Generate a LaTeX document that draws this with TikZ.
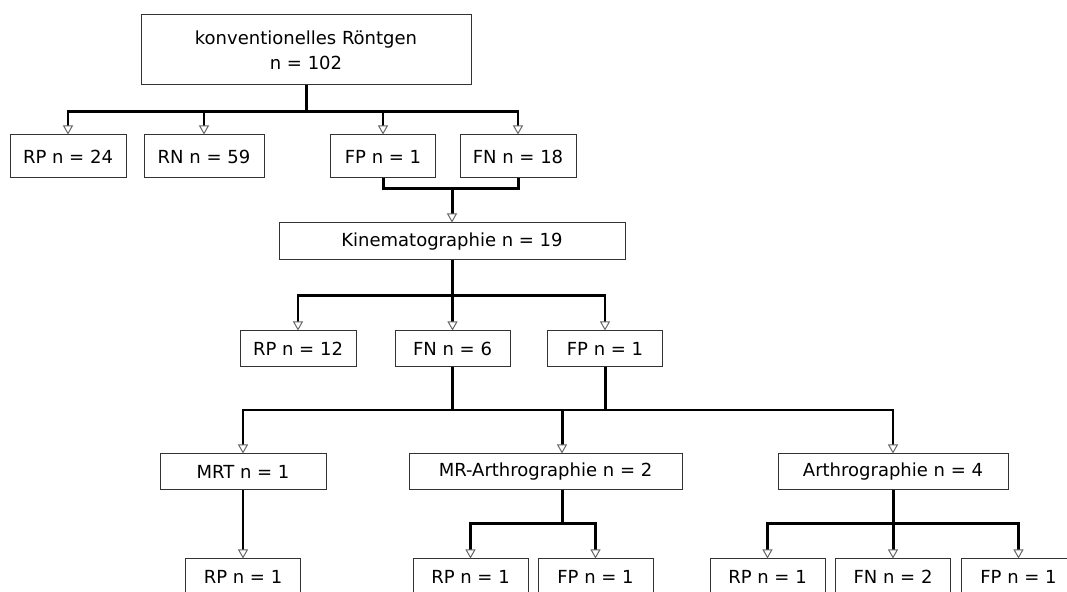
\documentclass[tikz,border=0pt]{standalone}
\usepackage{fontspec}
\setmainfont{DejaVu Sans}
\usetikzlibrary{
    positioning,                      % relative Lage der Knoten
    arrows.meta,                      % Pfeilspitzen (Triangle)
    calc                              % Koordinatenrechnung
}
\tikzset{
    box/.style={
        rectangle, draw=black!80, line width=0.5pt,
        minimum height=18pt, align=center,
        font=\fontsize{9}{12.5}\selectfont,
        inner sep=2pt
    },
    stem/.style={
        line width=1.5pt
    },
    branch/.style={
        line width=1.1pt
    },
    arrow/.style={
        branch,
        -{Triangle[width=5pt, length=4.5pt, line width=0.5pt, color=black!60, fill=white]}
    }
}

\begin{document}
\begin{tikzpicture}[x=0.5pt, y=-0.5pt]
    \useasboundingbox (0,0) rectangle (1067,592);
    \node[box, minimum width=165pt, minimum height=35pt] (xr) at (306,50)
        {konventionelles Röntgen\\n = 102};
    \node[box, minimum width=58pt, minimum height=21.5pt] (rp1) at (68,156.5) {RP n = 24};
    \node[box, minimum width=60pt, minimum height=21.5pt] (rn1) at (204,156.5) {RN n = 59};
    \node[box, minimum width=52.5pt, minimum height=21.5pt] (fp1) at (383,156.5) {FP n = 1};
    \node[box, minimum width=58pt, minimum height=21.5pt] (fn1) at (518,156.5) {FN n = 18};
    \node[box, minimum width=173pt, minimum height=18.5pt] (kin) at (452,241.5)
        {Kinematographie n = 19};
    \node[box, minimum width=58pt] (rp2) at (298,349) {RP n = 12};
    \node[box, minimum width=57.5pt] (fn2) at (452.5,349) {FN n = 6};
    \node[box, minimum width=57.5pt] (fp2) at (605,349) {FP n = 1};
    \node[box, minimum width=83pt] (mrt) at (243,472) {MRT n = 1};
    \node[box, minimum width=136.5pt] (mra) at (545.5,472) {MR-Arthrographie n = 2};
    \node[box, minimum width=115pt] (ar) at (893,472) {Arthrographie n = 4};
    \node[box, minimum width=57.5pt] (mrtrp) at (243,577) {RP n = 1};
    \node[box, minimum width=57.5pt] (mrarp) at (470.5,577) {RP n = 1};
    \node[box, minimum width=57.5pt] (mrafp) at (595.5,577) {FP n = 1};
    \node[box, minimum width=57.5pt] (arrp) at (767.5,577) {RP n = 1};
    \node[box, minimum width=57.5pt] (arfn) at (893,577) {FN n = 2};
    \node[box, minimum width=57.5pt] (arfp) at (1018.5,577) {FP n = 1};

    % Röntgen
    \draw[stem] (xr.south) -- ++(0,26) coordinate (b1);
    \foreach \n in {rp1,rn1,fp1,fn1}
        \draw[arrow] (b1) -| (\n.north);

    % Kinematographie
    \coordinate (m1) at (452,189);
    \draw[stem] (fp1.south) |- (m1) -| (fn1.south);
    \draw[arrow, stem] (m1) -- (kin.north);
    \draw[stem] (kin.south) -- ++(0,35) coordinate (b2);
    \foreach \n in {rp2,fn2,fp2}
        \draw[arrow] (b2) -| (\n.north);

    % weitere Bildgebung
    \coordinate (b3) at (562,410);
    \draw[stem] (fn2.south) -- (fn2.south |- b3);
    \draw[stem] (fp2.south) -- (fp2.south |- b3);
    \draw[arrow] (b3) -| (mrt.north);
    \draw[arrow] (b3) -| (ar.north);
    \draw[arrow, stem] (b3) -- (b3 |- mra.north);

    \draw[arrow] (mrt.south) -- (mrtrp.north);
    \draw[stem] (b3 |- mra.south) -- ++(0,33) coordinate (b4);
    \draw[arrow] (b4) -| (mrarp.north);
    \draw[arrow] (b4) -| (mrafp.north);
    \draw[stem] (ar.south) -- ++(0,33) coordinate (b5);
    \draw[arrow] (b5) -| (arrp.north);
    \draw[arrow, stem] (b5) -- (arfn.north);
    \draw[arrow] (b5) -| (arfp.north);
\end{tikzpicture}
\end{document}
